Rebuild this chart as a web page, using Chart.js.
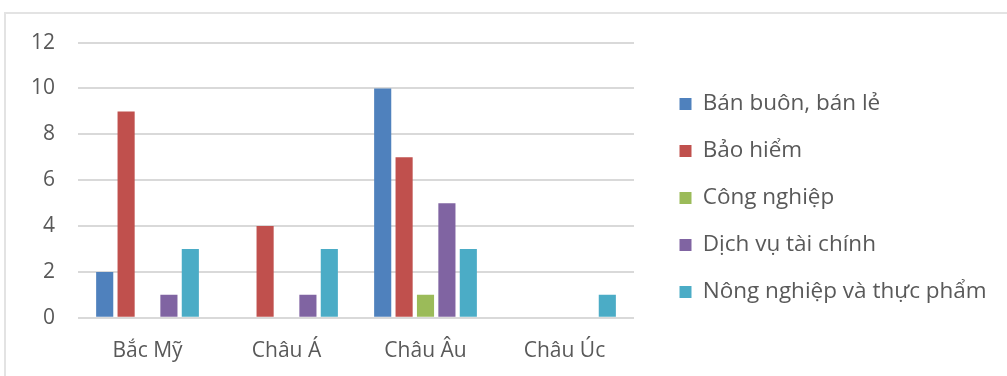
<!DOCTYPE html>
<html>
<head>
<meta charset="utf-8">
<script src="https://cdn.jsdelivr.net/npm/chart.js@4/dist/chart.umd.min.js"></script>
<style>
    html, body { margin: 0; padding: 0; background: #fff; }
    body { width: 1007px; height: 376px; overflow: hidden; position: relative; }
    .frame {
        position: absolute; left: 4px; top: 12px; width: 1010px; height: 380px;
        border: 2px solid #e3e3e3; box-sizing: border-box;
    }
    .wrap { position: absolute; left: 4px; top: 12px; width: 1003px; height: 364px; }
</style>
</head>
<body>
<div class="frame"></div>
<div class="wrap"><canvas id="chart"></canvas></div>
<script>
const regions = ["Bắc Mỹ", "Châu Á", "Châu Âu", "Châu Úc"];
const sectors = ["Bán buôn, bán lẻ", "Bảo hiểm", "Công nghiệp", "Dịch vụ tài chính", "Nông nghiệp và thực phẩm"];
const banBuon = [2, 0, 10, 0];
const baoHiem = [9, 4, 7, 0];
const congNghiep = [0, 0, 1, 0];
const dichVu = [1, 1, 5, 0];
const nongNghiep = [3, 3, 3, 1];
const yTicks = [0, 2, 4, 6, 8, 10, 12];
const colors = ["#4f81bd", "#c0504d", "#9bbb59", "#8064a2", "#4bacc6"];

const series = [banBuon, baoHiem, congNghiep, dichVu, nongNghiep];
const textColor = "#595959";
const fontFamily = "'Open Sans', sans-serif";

// the legend keeps a fixed width so the plot ends where the original does,
// and its items sit a little further right and higher than the default
const legendPlace = {
    id: "legendPlace",
    beforeLayout(chart) {
        const lg = chart.legend;
        if (lg && !lg._fixed) {
            const fit = lg.fit.bind(lg);
            lg.fit = function () { fit(); this.width = 363; };
            lg._fixed = true;
        }
    },
    afterLayout(chart) {
        const lg = chart.legend;
        lg.left += 21;
        lg.right += 21;
        lg.top -= 8;
        lg.bottom -= 8;
    }
};

new Chart(document.getElementById("chart"), {
    type: "bar",
    data: {
        labels: regions,
        datasets: series.map((values, i) => ({
            label: sectors[i],
            data: values,
            backgroundColor: colors[i],
            borderWidth: 0,
            categoryPercentage: 0.77,
            barPercentage: 0.8
        }))
    },
    options: {
        responsive: true,
        maintainAspectRatio: false,
        animation: false,
        layout: { padding: { left: 9, right: 10, top: 15, bottom: -9 } },
        plugins: {
            tooltip: { enabled: false },
            legend: {
                position: "right",
                onClick: null,
                labels: {
                    boxWidth: 12,
                    boxHeight: 12,
                    padding: 24.5,
                    color: textColor,
                    font: { family: fontFamily, size: 22.5 }
                }
            }
        },
        scales: {
            x: {
                grid: { display: false, drawTicks: false },
                border: { display: false },
                ticks: { color: textColor, padding: 21, font: { family: fontFamily, size: 21 } }
            },
            y: {
                min: yTicks[0],
                max: yTicks[yTicks.length - 1],
                afterBuildTicks: axis => { axis.ticks = yTicks.map(v => ({ value: v })); },
                grid: { color: "#d9d9d9", lineWidth: 2, drawTicks: true, tickLength: 5, tickColor: "rgba(0,0,0,0)" },
                border: { display: false },
                ticks: { color: textColor, padding: 18, font: { family: fontFamily, size: 21 } }
            }
        }
    },
    plugins: [legendPlace]
});
</script>
</body>
</html>
